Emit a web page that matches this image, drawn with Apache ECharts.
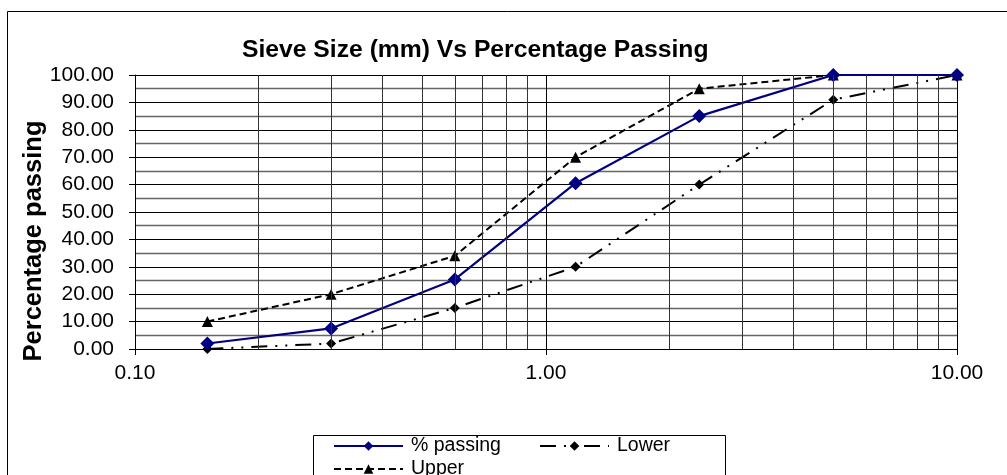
<!DOCTYPE html>
<html>
<head>
<meta charset="utf-8">
<script src="https://cdn.jsdelivr.net/npm/echarts@6/dist/echarts.min.js"></script>
<style>
html,body{margin:0;padding:0;background:#fff;}
#c{width:1007px;height:475px;}
</style>
</head>
<body>
<div id="c"></div>
<script>
const sieveSizes = [0.15, 0.3, 0.6, 1.18, 2.36, 5, 10];
const passing = [2, 7.5, 25.4, 60.5, 85, 100, 100];
const lower = [0, 2, 15, 30, 60, 91, 100];
const upper = [10, 20, 34, 70, 95, 100, 100];
const minorGridX = [0.2, 0.3, 0.4, 0.5, 0.6, 0.7, 0.8, 0.9, 2, 3, 4, 5, 6, 7, 8, 9];
const titleText = 'Sieve Size (mm) Vs Percentage Passing';
const yName = 'Percentage passing';

const FONT = '"Liberation Sans", Arial, sans-serif';
const pair = (xs, ys) => xs.map((x, i) => [x, ys[i]]);
const legendText = {fontFamily: FONT, fontSize: 19.5, color: '#000', lineHeight: 22, padding: [0, 0, 0, 3]};
const mkLegend = (name, left, top) => ({
  data: [name], orient: 'horizontal', left: left, top: top, padding: 0,
  itemWidth: 69, itemHeight: 12, textStyle: legendText
});

const chart = echarts.init(document.getElementById('c'), null, {renderer: 'canvas'});
chart.setOption({
  animation: false,
  backgroundColor: '#fff',
  textStyle: {fontFamily: FONT},
  title: {
    text: titleText,
    left: 242, top: 38, padding: 0,
    textStyle: {fontFamily: FONT, fontSize: 24.7, fontWeight: 'bold', color: '#000'}
  },
  grid: {left: 135, right: 50, top: 75, bottom: 126, containLabel: false},
  xAxis: {
    type: 'log', logBase: 10, min: 0.1, max: 10,
    axisLine: {show: true, onZero: false, lineStyle: {color: '#000', width: 1}},
    axisTick: {show: true, inside: false, length: 6, lineStyle: {color: '#000'}},
    axisLabel: {
      color: '#000', fontSize: 21, fontFamily: FONT, margin: 14,
      formatter: v => Number(v).toFixed(2)
    },
    splitLine: {show: true, lineStyle: {color: '#000', width: 1}}
  },
  yAxis: {
    type: 'value', min: 0, max: 100, interval: 10,
    name: yName, nameLocation: 'middle', nameGap: 88, nameRotate: 90,
    nameMoveOverlap: false,
    nameTextStyle: {fontFamily: FONT, fontSize: 25.5, fontWeight: 'bold', color: '#000', padding: [0, 58, 0, 0]},
    axisLine: {show: true, lineStyle: {color: '#000', width: 1}},
    axisTick: {show: true, length: 6, lineStyle: {color: '#000'}},
    axisLabel: {
      color: '#000', fontSize: 21, fontFamily: FONT, margin: 21,
      formatter: v => Number(v).toFixed(2)
    },
    splitLine: {show: true, lineStyle: {color: '#000', width: 1}},
    minorTick: {show: false, splitNumber: 2},
    minorSplitLine: {show: true, lineStyle: {color: '#666', width: 1.3}}
  },
  legend: [
    mkLegend('% passing', 333, 435),
    mkLegend('Upper', 333, 458),
    mkLegend('Lower', 539, 435)
  ],
  graphic: [
    {type: 'rect', silent: true, shape: {x: 7.5, y: 11.5, width: 1100, height: 600},
     style: {fill: 'none', stroke: '#000', lineWidth: 1}},
    {type: 'rect', silent: true, shape: {x: 313.5, y: 435.5, width: 412, height: 60},
     style: {fill: 'none', stroke: '#000', lineWidth: 1}}
  ],
  series: [
    {
      name: 'minorGrid', type: 'line', data: [], z: 1, silent: true,
      markLine: {
        silent: true, symbol: ['none', 'none'], label: {show: false},
        lineStyle: {color: '#333', width: 1, type: 'solid'},
        emphasis: {disabled: true},
        data: minorGridX.map(v => ({xAxis: v}))
      }
    },
    {
      name: 'Upper', type: 'line', z: 3,
      data: pair(sieveSizes, upper),
      symbol: 'triangle', symbolSize: 11,
      itemStyle: {color: '#000'},
      lineStyle: {color: '#000', width: 2, type: [7, 4]}
    },
    {
      name: 'Lower', type: 'line', z: 3,
      data: pair(sieveSizes, lower),
      symbol: 'diamond', symbolSize: 10,
      itemStyle: {color: '#000'},
      lineStyle: {color: '#000', width: 2, type: [16, 8, 2, 8, 2, 8]}
    },
    {
      name: '% passing', type: 'line', z: 4,
      data: pair(sieveSizes, passing),
      symbol: 'diamond', symbolSize: 14,
      itemStyle: {color: '#000080'},
      lineStyle: {color: '#000080', width: 2.2, type: 'solid'}
    }
  ]
});
</script>
</body>
</html>
